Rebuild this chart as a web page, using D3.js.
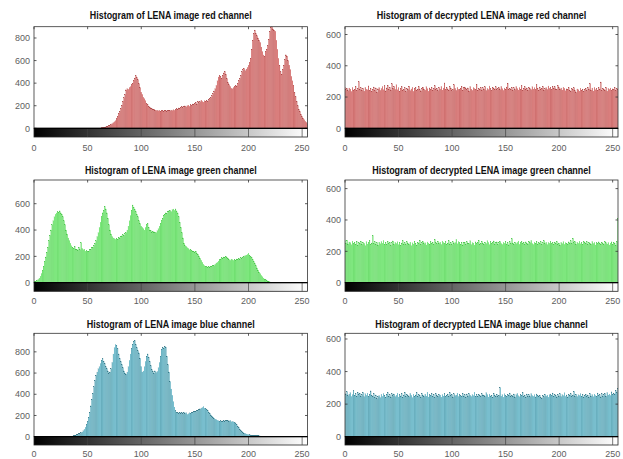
<!DOCTYPE html>
<html>
<head>
<meta charset="utf-8">
<script src="https://cdn.jsdelivr.net/npm/d3@7"></script>
<style>
body { margin: 0; background: #fff; }
svg { display: block; }
text { font-family: "Liberation Sans", Arial, sans-serif; }
</style>
</head>
<body>
<svg id="svg" width="623" height="459"></svg>
<script>
// histogram counts, one value per grey level 0..255
const lenaRed = [
  0,0,0,0,0,0,0,0,0,0,0,0,0,0,0,0,
  0,0,0,0,0,0,0,0,0,0,0,0,0,0,0,0,
  0,0,0,0,0,0,0,0,0,0,0,0,0,0,0,0,
  0,0,0,0,0,0,0,0,0,0,0,1,1,2,3,4,
  6,8,10,12,15,18,22,28,36,42,50,58,68,85,105,128,
  150,175,205,240,270,300,340,350,345,362,370,385,400,420,445,465,
  450,430,395,360,320,300,275,262,245,220,210,195,188,180,172,168,
  170,162,158,160,155,160,152,158,155,150,160,156,152,158,160,155,
  162,158,165,160,168,175,170,180,178,185,190,182,195,198,190,200,
  205,195,210,200,215,208,220,230,215,240,228,235,250,238,232,245,
  240,250,235,255,262,270,290,310,330,350,380,420,455,470,460,445,
  470,490,505,480,440,405,385,370,355,350,362,370,380,375,395,420,
  440,470,500,520,530,510,525,540,560,580,620,700,780,840,870,840,
  820,800,780,760,720,680,650,640,680,700,730,790,860,895,900,880,
  870,860,780,700,620,560,500,480,520,560,610,650,640,600,560,520,
  460,420,380,320,280,240,200,170,150,125,105,90,75,62,52,40
];
const decRed = [
  262,248,255,240,258,251,236,262,245,250,268,241,253,297,247,259,
  244,256,238,262,250,246,271,242,255,233,249,264,240,258,231,252,
  260,243,255,268,247,272,239,258,276,251,263,245,285,257,268,249,
  279,246,261,238,254,266,243,250,259,234,256,248,270,241,252,263,
  237,255,262,244,251,268,246,239,257,263,250,244,266,253,238,258,
  249,261,243,255,272,247,256,240,262,251,268,245,258,290,247,263,
  252,244,266,257,240,249,279,255,243,262,250,247,256,270,241,259,
  264,253,246,258,239,267,251,243,261,255,248,282,244,257,250,262,
  245,259,251,266,242,255,248,271,253,240,262,257,249,265,246,254,
  260,247,268,253,243,258,251,264,289,246,256,250,262,242,259,248,
  267,254,245,261,250,273,243,257,265,249,258,244,262,253,247,266,
  251,260,246,278,255,243,264,250,257,268,245,253,260,249,271,256,
  262,248,270,257,265,252,247,274,260,251,258,245,263,256,240,252,
  249,261,243,236,254,247,259,241,230,252,246,238,257,244,251,235,
  248,256,240,263,250,286,245,258,239,262,247,254,243,260,249,296,
  241,257,251,244,262,238,255,249,258,243,252,246,261,240,255,249
];
const lenaGreen = [
  5,8,12,18,25,35,50,70,95,125,160,195,230,270,320,360,
  400,440,470,500,520,530,540,535,545,530,520,500,470,440,400,370,
  340,320,300,280,270,260,275,250,255,245,270,250,305,260,250,255,
  240,245,235,240,250,255,265,270,285,300,320,350,380,420,460,500,
  530,550,580,560,530,490,440,400,370,350,340,335,330,338,330,345,
  340,350,355,365,360,375,380,400,430,470,510,550,590,570,555,540,
  520,500,470,450,430,420,410,400,420,440,450,420,400,395,385,390,
  380,385,380,395,410,430,450,470,490,510,520,530,525,540,545,550,
  540,555,560,550,560,545,530,500,460,420,380,340,300,280,275,265,
  260,250,255,245,240,235,230,240,220,215,200,185,170,155,140,130,
  125,120,115,120,118,120,125,130,128,140,150,155,165,175,180,190,
  185,195,190,200,190,185,175,170,180,175,170,178,172,180,175,185,
  180,190,185,195,200,205,210,215,225,210,200,190,175,160,145,130,
  112,95,80,68,55,45,36,28,22,16,12,9,6,4,3,2,
  1,1,0,0,0,0,0,0,0,0,0,0,0,0,0,0,
  0,0,0,0,0,0,0,0,0,0,0,0,0,0,0,0
];
const decGreen = [
  268,252,271,247,260,255,242,266,250,258,246,263,240,257,249,265,
  244,258,251,236,262,247,255,269,243,253,300,250,261,245,256,240,
  259,248,263,252,270,246,255,243,261,249,258,238,254,266,245,257,
  250,261,243,257,239,253,268,247,256,242,262,251,245,259,236,254,
  247,265,252,240,258,249,271,245,256,262,248,254,241,260,253,246,
  262,250,257,243,275,255,248,264,251,259,244,266,257,249,262,245,
  253,268,247,258,242,261,250,256,277,248,263,254,246,259,241,255,
  258,244,262,251,249,267,243,256,253,240,260,248,255,271,246,252,
  264,251,246,259,250,268,257,243,262,249,255,266,247,254,260,245,
  256,263,250,244,258,252,265,247,255,241,262,250,281,253,246,259,
  249,257,266,245,254,262,248,256,243,260,251,247,263,255,270,250,
  244,259,252,265,247,256,250,261,245,254,268,249,258,243,257,252,
  261,248,255,243,259,250,264,246,253,240,257,249,262,245,256,251,
  247,260,253,267,249,284,255,262,246,258,251,265,248,254,243,261,
  255,249,262,244,258,252,246,263,250,257,241,255,248,260,252,245,
  259,250,243,262,254,247,256,241,253,260,245,256,250,239,262,410
];
const lenaBlue = [
  0,0,0,0,0,0,0,0,0,0,0,0,0,0,0,0,
  0,0,0,0,0,0,0,0,0,0,0,0,0,0,1,2,
  2,3,4,5,6,8,10,14,18,22,28,30,38,45,55,70,
  90,115,140,180,230,290,350,410,470,530,580,610,640,660,690,720,
  735,710,690,660,640,620,600,610,640,700,780,840,870,860,830,780,
  740,710,680,650,620,600,590,610,660,720,780,830,870,895,905,870,
  840,810,790,740,660,610,620,660,710,760,780,750,710,670,630,615,
  600,620,605,615,650,700,760,820,845,830,850,845,760,680,610,520,
  450,390,330,280,245,230,225,215,230,220,225,215,230,220,225,210,
  215,225,220,230,225,235,240,235,245,250,255,262,270,275,285,270,
  265,255,245,230,220,205,195,185,175,165,160,155,150,145,150,140,
  148,152,145,150,155,150,148,155,140,145,140,135,130,115,100,85,
  70,58,48,40,34,30,26,22,20,18,16,14,13,12,11,10,
  10,9,8,7,6,5,4,3,2,2,1,1,0,0,0,0,
  0,0,0,0,0,0,0,0,0,0,0,0,0,0,0,0,
  0,0,0,0,0,0,0,0,0,0,0,0,0,0,0,0
];
const decBlue = [
  265,258,276,251,262,270,247,259,282,255,263,248,271,257,266,250,
  258,272,245,263,254,268,249,260,281,252,246,264,240,256,233,247,
  252,240,261,248,266,255,243,258,270,249,257,244,263,251,262,246,
  255,268,244,259,250,263,241,256,273,248,260,252,245,266,254,240,
  261,249,256,270,246,258,252,243,265,255,247,262,250,274,244,257,
  251,263,245,258,240,266,253,248,261,256,243,259,250,267,246,255,
  262,248,271,254,259,244,263,251,256,268,247,260,253,245,264,250,
  257,243,262,250,266,255,247,259,252,274,249,258,245,261,254,248,
  263,251,256,247,270,258,244,262,250,255,241,265,253,248,260,246,
  255,302,249,258,243,263,252,246,259,254,268,247,256,250,262,244,
  257,266,251,245,260,253,271,248,256,243,262,250,258,246,264,252,
  248,258,244,262,252,247,255,240,236,253,245,261,249,256,243,258,
  262,251,268,247,257,253,244,260,250,265,246,258,252,270,248,256,
  244,259,251,263,248,256,278,250,261,246,257,253,265,249,258,244,
  252,261,247,256,243,266,250,258,245,262,253,248,268,251,257,244,
  263,250,258,266,249,271,256,262,253,275,259,268,261,283,270,296
];

const titles = [
  "Histogram of LENA image red channel",
  "Histogram of decrypted LENA image red channel",
  "Histogram of LENA image green channel",
  "Histogram of decrypted LENA image green channel",
  "Histogram of LENA image blue channel",
  "Histogram of decrypted LENA image blue channel"
];
const yMax = [900, 650, 780, 655, 975, 635];
const xTicks = [0, 50, 100, 150, 200, 250];
const yStep = 200;

const series = [lenaRed, decRed, lenaGreen, decGreen, lenaBlue, decBlue];
const fills = ["#dc6361", "#dc6361", "#62ec62", "#62ec62", "#5fc3d8", "#5fc3d8"];
const edges = ["#a53b3b", "#a53b3b", "#3cbf3c", "#3cbf3c", "#24697a", "#24697a"];

// layout
const cols = [{x0: 34, x1: 307.5}, {x0: 345, x1: 618}];
const rows = [
  {top: 26.7, base: 128.3, cb: 137, lab: 151, title: 19},
  {top: 180, base: 282.7, cb: 291.3, lab: 304, title: 174},
  {top: 333.3, base: 436.7, cb: 445, lab: 457, title: 327.5}
];
const titleW = [162, 210, 172, 219, 168, 213];

const svg = d3.select('#svg');
const defs = svg.append('defs');
const grad = defs.append('linearGradient').attr('id', 'grey');
grad.append('stop').attr('offset', 0).attr('stop-color', '#000');
grad.append('stop').attr('offset', 1).attr('stop-color', '#fff');

series.forEach((data, k) => {
  const c = cols[k % 2], r = rows[Math.floor(k / 2)];
  const x = d3.scaleLinear().domain([0, 255]).range([c.x0, c.x1]);
  const y = d3.scaleLinear().domain([0, yMax[k]]).range([r.base, r.top]);
  const bw = x(1) - x(0);
  const g = svg.append('g');

  defs.append('clipPath').attr('id', 'clip' + k)
    .append('rect')
    .attr('x', c.x0).attr('y', r.top)
    .attr('width', c.x1 - c.x0).attr('height', r.base - r.top);

  // bars
  g.append('g').attr('clip-path', `url(#clip${k})`)
    .selectAll('rect').data(data).enter()
    .append('rect')
    .attr('x', (d, i) => x(i) - bw * 0.33)
    .attr('width', bw * 0.66)
    .attr('y', d => y(d))
    .attr('height', d => y(0) - y(d))
    .attr('fill', fills[k])
    .attr('stroke', edges[k])
    .attr('stroke-width', 0.2);

  // axes box
  g.append('rect')
    .attr('x', c.x0).attr('y', r.top)
    .attr('width', c.x1 - c.x0).attr('height', r.base - r.top)
    .attr('fill', 'none').attr('stroke', '#333').attr('stroke-width', 0.8);

  // y ticks, left and right
  const yt = d3.range(0, yMax[k] + 1, yStep);
  g.selectAll('.yl').data(yt).enter().append('line')
    .attr('x1', c.x0).attr('x2', c.x0 + 2.5)
    .attr('y1', d => y(d)).attr('y2', d => y(d))
    .attr('stroke', '#333').attr('stroke-width', 0.8);
  g.selectAll('.yr').data(yt).enter().append('line')
    .attr('x1', c.x1).attr('x2', c.x1 - 2.5)
    .attr('y1', d => y(d)).attr('y2', d => y(d))
    .attr('stroke', '#333').attr('stroke-width', 0.8);
  g.selectAll('.ylab').data(yt).enter().append('text')
    .attr('x', c.x0 - 4).attr('y', d => y(d) + 3.2)
    .attr('text-anchor', 'end')
    .attr('font-size', 9).attr('fill', '#606060')
    .text(d => d);

  // top x ticks
  g.selectAll('.xt').data(xTicks).enter().append('line')
    .attr('x1', d => x(d)).attr('x2', d => x(d))
    .attr('y1', r.top).attr('y2', r.top + 2.5)
    .attr('stroke', '#333').attr('stroke-width', 0.8);

  // grey-level colorbar
  g.append('rect')
    .attr('x', c.x0).attr('y', r.base)
    .attr('width', c.x1 - c.x0).attr('height', r.cb - r.base)
    .attr('fill', 'url(#grey)').attr('stroke', '#222').attr('stroke-width', 0.8);
  g.selectAll('.cbt').data(xTicks.slice(1)).enter().append('line')
    .attr('x1', d => x(d)).attr('x2', d => x(d))
    .attr('y1', r.base).attr('y2', r.cb)
    .attr('stroke', '#444').attr('stroke-width', 0.7);
  g.append('line')
    .attr('x1', c.x0).attr('x2', c.x1)
    .attr('y1', r.base).attr('y2', r.base)
    .attr('stroke', '#000').attr('stroke-width', 1.3);

  g.selectAll('.xlab').data(xTicks).enter().append('text')
    .attr('x', d => x(d)).attr('y', r.lab)
    .attr('text-anchor', 'middle')
    .attr('font-size', 9).attr('fill', '#606060')
    .text(d => d);

  // title, squeezed horizontally to the narrow face of the original
  const t = g.append('text')
    .attr('text-anchor', 'middle')
    .attr('font-size', 11).attr('font-weight', 'bold').attr('fill', '#111')
    .text(titles[k]);
  const sx = Math.min(1, titleW[k] / t.node().getComputedTextLength());
  t.attr('transform', `translate(${(c.x0 + c.x1) / 2},${r.title}) scale(${sx},1)`);
});
</script>
</body>
</html>
